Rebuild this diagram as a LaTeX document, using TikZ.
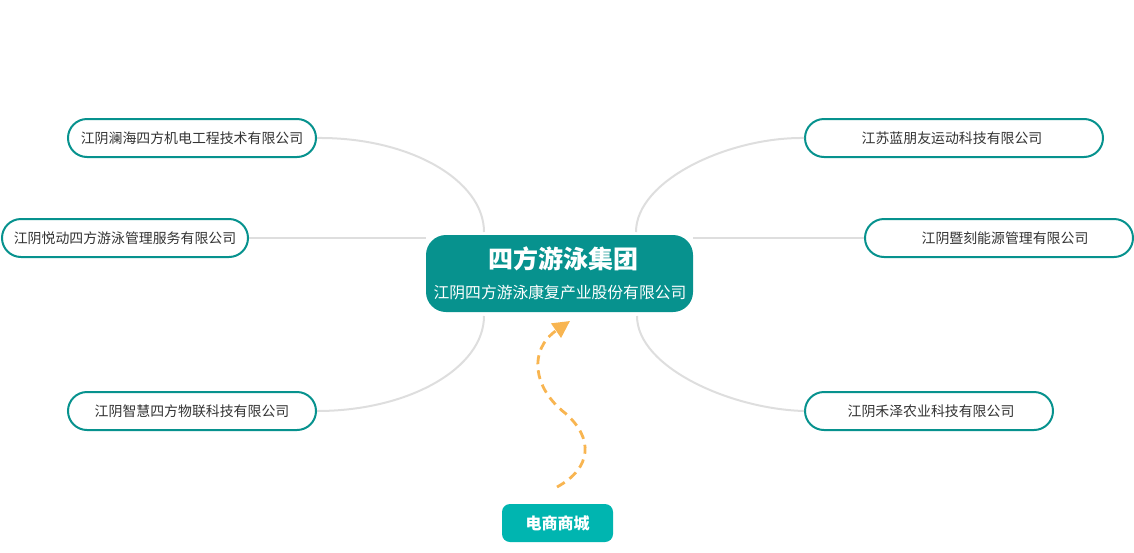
\documentclass[tikz,border=0pt]{standalone}
\usepackage{fontspec}
\setmainfont{Noto Sans CJK SC}
\usetikzlibrary{arrows.meta}
\definecolor{teal1}{HTML}{07928E}
\definecolor{teal2}{HTML}{00B5B0}
\definecolor{linkgray}{HTML}{DEDEDE}
\definecolor{txtgray}{HTML}{333333}
\definecolor{orangeA}{HTML}{F8B551}
\tikzset{
  company/.style={draw=teal1, line width=2pt, fill=white, rounded corners=19pt,
    minimum height=38pt, text=txtgray, font=\fontsize{13.9}{16}\selectfont, inner sep=0pt},
  link/.style={draw=linkgray, line width=2pt},
}
\begin{document}
\begin{tikzpicture}[x=1pt,y=-1pt]
\useasboundingbox (0,0) rectangle (1134,552);
% central
\node[fill=teal1, rounded corners=20pt, minimum width=267pt, minimum height=77pt, inner sep=0pt] (center) at (559.5,273.5) {};
\node[text=white, font=\fontsize{25}{28}\selectfont\bfseries] (title) at (563,259) {四方游泳集团};
\node[text=white, font=\fontsize{15.8}{18}\selectfont] (sub) at (560,292) {江阴四方游泳康复产业股份有限公司};
% companies
\node[company, minimum width=248pt] (tl) at (192,138) {江阴澜海四方机电工程技术有限公司};
\node[company, minimum width=246pt] (ml) at (125,238) {江阴悦动四方游泳管理服务有限公司};
\node[company, minimum width=248pt] (bl) at (192,411) {江阴智慧四方物联科技有限公司};
\node[company, minimum width=298pt] (tr) at (954,138) {\hspace*{-4pt}江苏蓝朋友运动科技有限公司};
\node[company, minimum width=268pt] (mr) at (999,238) {\hspace*{12pt}江阴暨刻能源管理有限公司};
\node[company, minimum width=248pt] (br) at (929,411) {\hspace*{4pt}江阴禾泽农业科技有限公司};
% shop
\node[fill=teal2, rounded corners=8pt, minimum width=111pt, minimum height=38pt, inner sep=0pt,
  text=white, font=\fontsize{16}{18}\selectfont\bfseries] (shop) at (557.5,523) {电商商城};
% connectors
\coordinate (tlc) at (484,232);
\coordinate (blc) at (484,316);
\coordinate (trc) at (636,232);
\coordinate (brc) at (637,316);
\draw[link] (tl.east) .. controls (409,137) and (484,180) .. (tlc);
\draw[link] (ml.east) -- (ml.east -| center.west);
\draw[link] (blc) .. controls (484,368) and (409,411) .. (bl.east);
\draw[link] (trc) .. controls (636,180) and (729,137) .. (tr.west);
\draw[link] (mr.west) -- (mr.west -| center.east);
\draw[link] (brc) .. controls (637,367) and (730,409) .. (br.west);
% dashed arrow
\coordinate (a0) at (557,487);
\coordinate (a1) at (565,413);
\coordinate (a2) at (570,321);
\draw[orangeA, line width=2.8pt, dash pattern=on 9pt off 6pt, -{Triangle[length=17pt,width=17pt]}]
  (a0) .. controls (592,468) and (594,438) .. (a1) .. controls (533,388) and (528,350) .. (a2);
\end{tikzpicture}
\end{document}
